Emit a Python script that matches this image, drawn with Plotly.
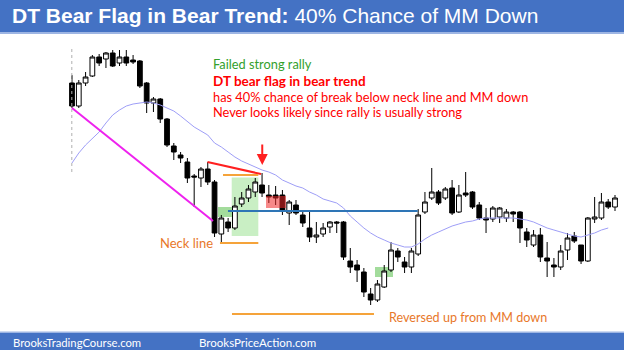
import plotly.graph_objects as go

# ---- data (price units, bar index 1..81) ----
opens = [267,244,267,274,293,291,297,287,293,290,
         289,267,247,251,231,204,195,188,174,172,
         181,168,116,128,122,146,152,158,165,155,
         155,155,137,145,135,122,113,116,123,128,
         128,89,85,78,56,50,63,80,99,88,
         83,96,138,152,158,152,162,138,157,158,
         145,132,131,133,132,138,138,118,105,115,
         92,85,83,100,114,105,89,131,132,148,
         143]
highs = [275,270,278,295,296,298,300,300,300,295,
         290,268,253,252,232,207,198,192,176,183,
         188,170,135,132,153,158,165,172,177,165,
         164,160,150,150,138,138,128,127,129,129,
         129,102,90,82,62,70,85,108,102,93,
         102,141,158,182,160,163,170,165,178,159,
         148,142,144,143,141,139,139,122,120,122,
         108,92,105,117,118,105,133,153,157,151,
         155]
lows = [242,242,264,273,284,282,283,284,284,286,
        262,237,238,227,203,190,187,167,143,163,
        165,113,107,118,120,143,148,153,153,147,
        145,135,125,135,123,108,107,113,117,117,
        90,77,68,53,45,48,62,78,88,77,
        77,94,136,150,145,150,135,137,153,141,
        130,117,128,127,128,128,107,103,103,88,
        73,73,80,90,107,86,88,127,130,141,
        139]
closes = [244,267,273,293,287,297,284,293,287,288,
          264,247,251,231,205,198,192,172,173,181,
          168,117,132,122,144,152,161,168,157,153,
          152,140,148,137,127,113,115,122,128,127,
          93,83,80,58,50,66,79,100,93,83,
          99,135,148,158,147,161,137,155,155,143,
          132,130,142,142,138,136,122,110,115,93,
          89,83,99,112,109,89,132,133,148,143,
          152]
ma20 = [187,197,205,212,218,227,235,240,244,246,
        247,248,247,245,242,239,234,228,223,219,
        215,207,203,198,193,189,186,183,180,178,
        175,170,167,164,162,158,155,151,149,147,
        142,134,128,122,117,113,110,107,105,103,
        103,106,111,115,118,121,124,126,128,129,
        131,132,132,132,132,132,131,130,128,125,
        122,120,118,116,114,113,115,117,120,122,
        None]
bars = list(range(1, len(opens) + 1))

title_bold = "DT Bear Flag in Bear Trend:"
title_rest = " 40% Chance of MM Down"
notes = ["Failed strong rally",
         "DT bear flag in bear trend",
         "has 40% chance of break below neck line and MM down",
         "Never looks likely since rally is usually strong"]
neck_label = "Neck line"
reversal_label = "Reversed up from MM down"
footer_left = "BrooksTradingCourse.com"
footer_right = "BrooksPriceAction.com"

W, H = 624, 350
SP = 6.7875
X0 = 72
x_range = [1 - X0 / SP, 1 + (W - X0) / SP]

fig = go.Figure()
fig.add_trace(go.Candlestick(
    x=bars, open=opens, high=highs, low=lows, close=closes,
    increasing=dict(fillcolor="white", line=dict(color="black", width=1)),
    decreasing=dict(fillcolor="black", line=dict(color="black", width=1)),
    whiskerwidth=0, showlegend=False, hoverinfo="skip"))
fig.add_trace(go.Scatter(x=bars, y=ma20, mode="lines",
                         line=dict(color="#9e9ef7", width=1),
                         showlegend=False, hoverinfo="skip"))

shapes = []
# title / footer bands
shapes.append(dict(type="rect", xref="paper", yref="paper", x0=0, x1=1,
                   y0=1 - 32 / H, y1=1, fillcolor="#4472C4", line_width=0, layer="above"))
shapes.append(dict(type="rect", xref="paper", yref="paper", x0=0, x1=1,
                   y0=1 - 34 / H, y1=1 - 32 / H, fillcolor="#9DB5E3", line_width=0, layer="above"))
shapes.append(dict(type="rect", xref="paper", yref="paper", x0=0, x1=1,
                   y0=0, y1=17 / H, fillcolor="#4472C4", line_width=0, layer="above"))
shapes.append(dict(type="rect", xref="paper", yref="paper", x0=0, x1=1,
                   y0=17 / H, y1=18.5 / H, fillcolor="#9DB5E3", line_width=0, layer="above"))
# green boxes (below)
shapes.append(dict(type="rect", x0=24.53, x1=28.45, y0=114, y1=172.5,
                   fillcolor="#c9efc4", line_width=0, layer="below"))
shapes.append(dict(type="rect", x0=22.51, x1=25.31, y0=133, y1=143,
                   fillcolor="#a3dc9c", line_width=0, layer="below"))
shapes.append(dict(type="rect", x0=45.64, x1=48.29, y0=73, y1=83,
                   fillcolor="#a3dc9c", line_width=0, layer="below"))
# red box (above, translucent)
shapes.append(dict(type="rect", x0=29.58, x1=32.53, y0=142, y1=154,
                   fillcolor="rgba(240,40,40,0.55)", line_width=0, layer="above"))
# dotted vertical line
shapes.append(dict(type="line", x0=0.97, x1=0.97, y0=178, y1=303,
                   line=dict(color="#b0b0b0", width=1, dash="dot")))
# magenta trend line
shapes.append(dict(type="line", x0=1, x1=21.77, y0=242, y1=129,
                   line=dict(color="#ee22ee", width=2)))
# red line
shapes.append(dict(type="line", x0=20.96, x1=28.85, y0=188, y1=176,
                   line=dict(color="#ff2020", width=2)))
# orange lines
shapes.append(dict(type="line", x0=23.25, x1=28.45, y0=175, y1=175,
                   line=dict(color="#f5a33a", width=2)))
shapes.append(dict(type="line", x0=22.8, x1=28.45, y0=107, y1=107,
                   line=dict(color="#f5a33a", width=2)))
shapes.append(dict(type="line", x0=24.57, x1=45.49, y0=36, y1=36,
                   line=dict(color="#f5a33a", width=2)))
# blue neck line
shapes.append(dict(type="line", x0=23.98, x1=51.93, y0=139, y1=139,
                   line=dict(color="#2e75b6", width=2)))

ann = []
# red arrow
ann.append(dict(x=29.03, y=185, ax=29.03, ay=207, xref="x", yref="y", axref="x", ayref="y",
                showarrow=True, arrowhead=2, arrowsize=1.1, arrowwidth=2, arrowcolor="#ff2020", text=""))
def txt(s, xpx, ypx, color, size, family="Lato", bold=False):
    ann.append(dict(text=("<b>%s</b>" % s) if bold else s, x=xpx / W, y=1 - ypx / H,
                    xref="paper", yref="paper", xanchor="left", yanchor="middle",
                    showarrow=False, font=dict(color=color, size=size, family=family)))
txt("<b>" + title_bold + "</b>" + title_rest, 10, 16, "white", 21, "Liberation Sans")
txt(notes[0], 211, 64, "#33a02c", 12.8)
txt(notes[1], 211, 81, "#ff0000", 13.5, bold=True)
txt(notes[2], 211, 97, "#ff0000", 12.8)
txt(notes[3], 211, 112, "#ff0000", 12.8)
txt(neck_label, 158, 243, "#e8782a", 13)
txt(reversal_label, 387, 317, "#e8782a", 12.6)
txt(footer_left, 11, 342, "white", 11.3)
txt(footer_right, 197, 342, "white", 11.5)

fig.update_layout(width=W, height=H, margin=dict(l=0, r=0, t=0, b=0),
                  paper_bgcolor="white", plot_bgcolor="white",
                  shapes=shapes, annotations=ann, boxgap=0.0, boxgroupgap=0.3,
                  xaxis=dict(range=x_range, visible=False, rangeslider=dict(visible=False), fixedrange=True),
                  yaxis=dict(range=[0, 350], visible=False, fixedrange=True))
fig.write_html("out.html")
